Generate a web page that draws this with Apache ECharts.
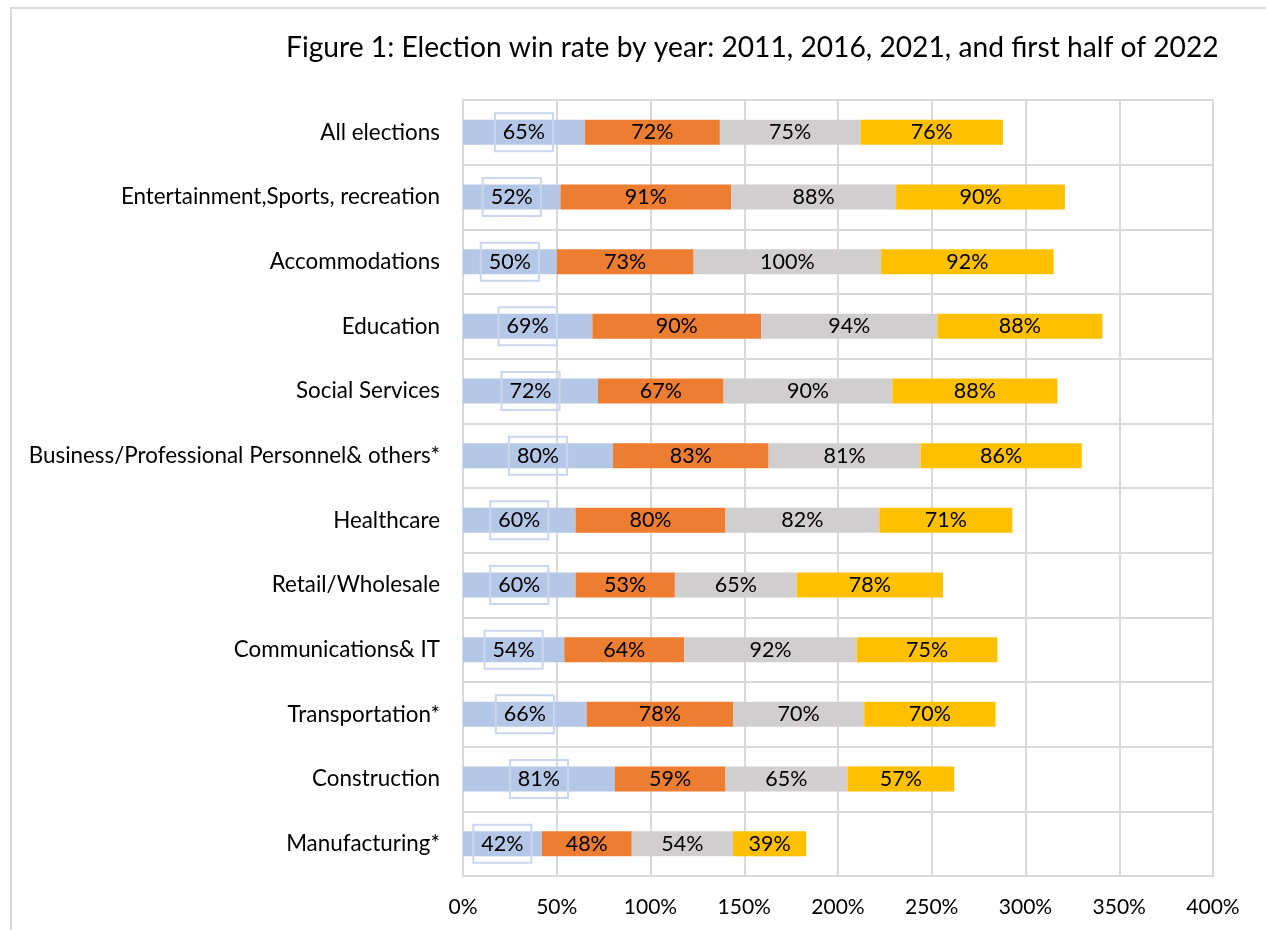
<!DOCTYPE html>
<html>
<head>
<meta charset="utf-8">
<script src="https://cdn.jsdelivr.net/npm/echarts@6/dist/echarts.min.js"></script>
<style>
  html, body { margin: 0; padding: 0; background: #fff; }
  #chart { width: 1266px; height: 930px; }
</style>
</head>
<body>
<div id="chart"></div>
<script>
// categories, top to bottom
var categories = [
  'All elections',
  'Entertainment,Sports, recreation',
  'Accommodations',
  'Education',
  'Social Services',
  'Business/Professional Personnel& others*',
  'Healthcare',
  'Retail/Wholesale',
  'Communications& IT',
  'Transportation*',
  'Construction',
  'Manufacturing*'
]
var y2011 = [65, 52, 50, 69, 72, 80, 60, 60, 54, 66, 81, 42]
var y2016 = [72, 91, 73, 90, 67, 83, 80, 53, 64, 78, 59, 48]
var y2021 = [75, 88, 100, 94, 90, 81, 82, 65, 92, 70, 65, 54]
var y2022 = [76, 90, 92, 88, 88, 86, 71, 78, 75, 70, 57, 39]
var seriesNames = ['2011', '2016', '2021', 'First half of 2022']
var seriesColors = ['#b4c7e7', '#ed7d31', '#d0cece', '#ffc000']

var font = 'Lato'

function makeSeries (idx, data) {
  var s = {
    name: seriesNames[idx],
    type: 'bar',
    stack: 'total',
    barWidth: 25,
    itemStyle: { color: seriesColors[idx] },
    label: {
      show: true,
      position: 'inside',
      formatter: '{c}%',
      color: '#000',
      fontFamily: font,
      fontSize: 21.5
    },
    data: data
  }
  if (idx === 0) {
    s.label.borderColor = '#c9d6ee'
    s.label.borderWidth = 2
    s.label.padding = [8, 8]
  }
  return s
}

var chart = echarts.init(document.getElementById('chart'))
chart.setOption({
  animation: false,
  graphic: [{
    type: 'rect',
    shape: { x: 11, y: 8, width: 1300, height: 1000 },
    style: { fill: 'none', stroke: '#d9d9d9', lineWidth: 2 },
    silent: true,
    z: -10
  }],
  title: {
    text: 'Figure 1: Election win rate by year: 2011, 2016, 2021, and first half of 2022',
    left: 281,
    top: 29,
    textStyle: { fontFamily: font, fontSize: 28.2, fontWeight: 'normal', color: '#000' }
  },
  grid: { left: 463, right: 53, top: 100, bottom: 54 },
  xAxis: {
    type: 'value',
    min: 0,
    max: 400,
    interval: 50,
    axisLine: { show: true, lineStyle: { color: '#d9d9d9', width: 2 } },
    axisTick: { show: false },
    axisLabel: { formatter: '{value}%', color: '#000', fontFamily: font, fontSize: 21, margin: 21 },
    splitLine: { show: true, lineStyle: { color: '#d9d9d9', width: 2 } }
  },
  yAxis: {
    type: 'category',
    inverse: true,
    data: categories,
    axisLine: { show: true, lineStyle: { color: '#d9d9d9', width: 2 } },
    axisTick: { show: false },
    axisLabel: { color: '#000', fontFamily: font, fontSize: 22.4, margin: 23 },
    splitLine: { show: true, lineStyle: { color: '#d9d9d9', width: 2 } }
  },
  series: [
    makeSeries(0, y2011),
    makeSeries(1, y2016),
    makeSeries(2, y2021),
    makeSeries(3, y2022)
  ]
})
</script>
</body>
</html>
